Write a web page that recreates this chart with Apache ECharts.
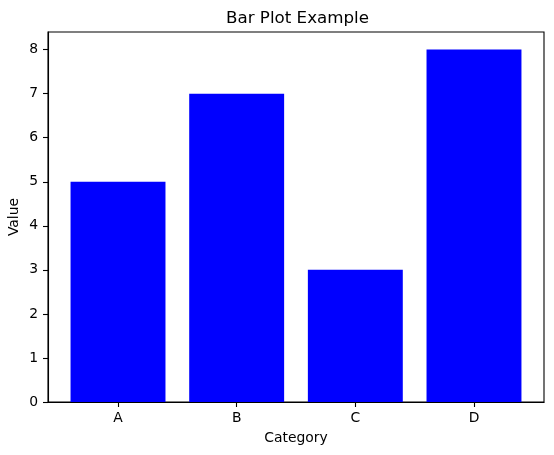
<!DOCTYPE html>
<html>
<head>
<meta charset="utf-8">
<script src="https://cdn.jsdelivr.net/npm/echarts@6/dist/echarts.min.js"></script>
<style>html,body{margin:0;padding:0;background:#fff}#c{width:554px;height:455px}</style>
</head>
<body>
<div id="c"></div>
<script>
var categories = ['A', 'B', 'C', 'D'];
var values = [5, 7, 3, 8];
var yTicks = [0, 1, 2, 3, 4, 5, 6, 7, 8];

var chart = echarts.init(document.getElementById('c'), null, {renderer: 'canvas'});
var positions = categories.map(function (c, i) { return i; });
var font = 'DejaVu Sans';
var barHalf = 0.4;
chart.setOption({
  animation: false,
  backgroundColor: '#fff',
  title: {
    text: 'Bar Plot Example', left: 226, top: 10, padding: 0,
    textStyle: {fontFamily: font, fontSize: 16.7, fontWeight: 'normal', color: '#000'}
  },
  grid: {left: 48, top: 32, width: 496, height: 370, outerBoundsMode: 'none', containLabel: false,
    show: true, borderColor: '#000', borderWidth: 1.1, backgroundColor: 'transparent'},
  xAxis: {
    type: 'value', min: -0.59, max: 3.59,
    name: 'Category', nameLocation: 'middle', nameGap: 29, nameMoveOverlap: false,
    nameTextStyle: {fontFamily: font, fontSize: 13.9, color: '#000'},
    splitLine: {show: false},
    axisLine: {show: true, onZero: false, lineStyle: {color: '#000', width: 1.1}},
    axisTick: {show: true, customValues: positions, length: 5, lineStyle: {color: '#000', width: 1.1}},
    axisLabel: {customValues: positions, margin: 9, fontFamily: font, fontSize: 13.9, color: '#000',
      formatter: function (v) { return categories[Math.round(v)]; }}
  },
  yAxis: {
    type: 'value', min: 0, max: 8.4,
    name: 'Value', nameLocation: 'middle', nameGap: 27, nameRotate: 90, nameMoveOverlap: false,
    nameTextStyle: {fontFamily: font, fontSize: 13.9, color: '#000'},
    splitLine: {show: false},
    axisLine: {show: true, onZero: false, lineStyle: {color: '#000', width: 1.1}},
    axisTick: {show: true, customValues: yTicks, length: 5, lineStyle: {color: '#000', width: 1.1}},
    axisLabel: {customValues: yTicks, margin: 10, fontFamily: font, fontSize: 13.9, color: '#000'}
  },
  series: [{
    type: 'custom',
    data: values.map(function (v, i) { return [positions[i], v]; }),
    encode: {x: 0, y: 1},
    renderItem: function (params, api) {
      var x = api.value(0), y = api.value(1);
      var p0 = api.coord([x - barHalf, y]);
      var p1 = api.coord([x + barHalf, 0]);
      return {
        type: 'rect',
        shape: {x: p0[0], y: p0[1], width: p1[0] - p0[0], height: p1[1] - p0[1]},
        style: {fill: '#0000ff'}
      };
    }
  }]
});
</script>
</body>
</html>
